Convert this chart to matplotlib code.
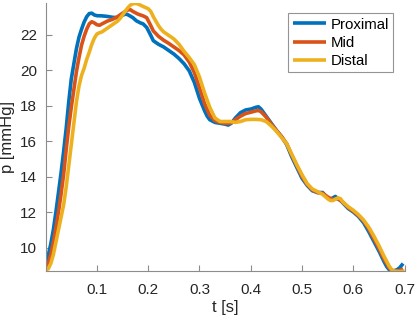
import matplotlib
matplotlib.use("Agg")
import matplotlib.pyplot as plt

plt.rcParams["font.family"] = ["Liberation Sans", "DejaVu Sans"]

# Proximal (blue)
t_prox = [0, 0.005, 0.01, 0.015, 0.02, 0.025, 0.03, 0.035, 0.04, 0.045, 0.05, 0.055,
          0.06, 0.065, 0.07, 0.075, 0.08, 0.085, 0.09, 0.095, 0.10, 0.11, 0.12, 0.13,
          0.14, 0.15, 0.155, 0.16, 0.17, 0.177, 0.185, 0.19, 0.197, 0.205, 0.21, 0.22,
          0.23, 0.24, 0.25, 0.26, 0.27, 0.28, 0.29, 0.30, 0.31, 0.315, 0.32, 0.33, 0.34,
          0.35, 0.356, 0.362, 0.37, 0.38, 0.39, 0.40, 0.41, 0.415, 0.42, 0.43, 0.44,
          0.45, 0.46, 0.47, 0.48, 0.49, 0.50, 0.51, 0.52, 0.53, 0.54, 0.55, 0.555, 0.56,
          0.565, 0.57, 0.575, 0.58, 0.59, 0.60, 0.61, 0.62, 0.63, 0.64, 0.65, 0.66,
          0.665, 0.67, 0.675, 0.68, 0.685, 0.69, 0.697]
p_prox = [9.2, 9.55, 10.2, 11.0, 12.0, 13.1, 14.2, 15.4, 16.7, 18.2, 19.5, 20.35,
          21.2, 21.85, 22.3, 22.7, 23.0, 23.18, 23.2, 23.1, 23.06, 23.05, 23.02, 22.97,
          22.95, 23.08, 23.15, 23.12, 22.95, 22.77, 22.65, 22.6, 22.4, 21.95, 21.65, 21.45,
          21.3, 21.1, 20.9, 20.65, 20.35, 19.95, 19.3, 18.4, 17.7, 17.4, 17.2, 17.05, 17.0,
          16.95, 16.9, 17.0, 17.3, 17.6, 17.75, 17.8, 17.9, 17.93, 17.8, 17.4, 17.0,
          16.6, 16.25, 15.8, 15.1, 14.5, 13.9, 13.5, 13.2, 13.1, 13.1, 12.8, 12.7, 12.8,
          12.88, 12.75, 12.65, 12.5, 12.2, 12.0, 11.75, 11.4, 10.9, 10.35, 9.8, 9.2,
          8.93, 8.75, 8.69, 8.7, 8.75, 8.85, 9.1]

# Mid (orange)
t_mid = [0, 0.005, 0.01, 0.015, 0.02, 0.025, 0.03, 0.035, 0.04, 0.045, 0.05, 0.055,
         0.06, 0.065, 0.07, 0.075, 0.08, 0.085, 0.09, 0.095, 0.10, 0.105, 0.11, 0.12,
         0.13, 0.14, 0.15, 0.16, 0.165, 0.17, 0.18, 0.19, 0.197, 0.205, 0.21, 0.22,
         0.23, 0.24, 0.25, 0.26, 0.27, 0.28, 0.29, 0.30, 0.31, 0.32, 0.33, 0.34, 0.35,
         0.36, 0.37, 0.38, 0.39, 0.40, 0.41, 0.415, 0.42, 0.43, 0.44, 0.45, 0.46, 0.47,
         0.48, 0.49, 0.50, 0.51, 0.52, 0.53, 0.54, 0.55, 0.56, 0.565, 0.57, 0.58, 0.59,
         0.60, 0.61, 0.62, 0.63, 0.64, 0.65, 0.66, 0.67, 0.675, 0.68, 0.69, 0.697]
p_mid = [8.9, 9.1, 9.6, 10.3, 11.1, 12.0, 13.0, 14.1, 15.5, 16.8, 17.9, 18.9,
         19.9, 20.7, 21.4, 21.9, 22.3, 22.6, 22.72, 22.65, 22.55, 22.52, 22.6, 22.75,
         22.85, 23.0, 23.2, 23.38, 23.4, 23.3, 23.15, 23.05, 22.95, 22.5, 22.2, 21.9,
         21.68, 21.5, 21.3, 21.1, 20.85, 20.45, 19.85, 19.0, 18.1, 17.45, 17.15, 17.05, 17.0,
         17.0, 17.2, 17.4, 17.55, 17.62, 17.7, 17.72, 17.65, 17.35, 16.95, 16.6, 16.25, 15.85,
         15.2, 14.6, 14.0, 13.55, 13.25, 13.1, 13.05, 12.85, 12.7, 12.75, 12.75, 12.55, 12.25,
         12.05, 11.8, 11.5, 11.05, 10.5, 9.95, 9.35, 8.85, 8.72, 8.68, 8.7, 8.8]

# Distal (yellow)
t_dist = [0, 0.005, 0.01, 0.015, 0.02, 0.025, 0.03, 0.035, 0.04, 0.045, 0.05, 0.055,
          0.06, 0.065, 0.07, 0.075, 0.08, 0.085, 0.09, 0.095, 0.10, 0.105, 0.11, 0.12,
          0.13, 0.14, 0.145, 0.15, 0.16, 0.165, 0.17, 0.175, 0.18, 0.185, 0.19, 0.20,
          0.205, 0.21, 0.215, 0.22, 0.225, 0.23, 0.24, 0.25, 0.26, 0.27, 0.28, 0.29, 0.30,
          0.31, 0.32, 0.33, 0.34, 0.35, 0.36, 0.37, 0.38, 0.39, 0.40, 0.41, 0.42, 0.43,
          0.44, 0.45, 0.46, 0.47, 0.48, 0.49, 0.50, 0.51, 0.52, 0.53, 0.54, 0.55, 0.555,
          0.56, 0.57, 0.575, 0.58, 0.59, 0.60, 0.61, 0.62, 0.63, 0.64, 0.65, 0.66, 0.67,
          0.675, 0.68, 0.69, 0.70]
p_dist = [8.75, 8.8, 9.1, 9.6, 10.3, 11.0, 11.7, 12.4, 13.4, 14.6, 15.8, 17.0,
          18.2, 19.1, 19.7, 20.1, 20.6, 21.0, 21.45, 21.8, 22.03, 22.1, 22.15, 22.35,
          22.55, 22.75, 22.9, 23.1, 23.5, 23.65, 23.73, 23.75, 23.72, 23.65, 23.58, 23.45,
          23.3, 23.0, 22.75, 22.5, 22.3, 22.15, 21.95, 21.75, 21.45, 21.05, 20.7, 20.3, 19.6,
          18.7, 17.9, 17.3, 17.1, 17.1, 17.1, 17.05, 17.1, 17.2, 17.22, 17.22, 17.2, 17.1,
          16.85, 16.55, 16.2, 15.85, 15.25, 14.65, 14.1, 13.6, 13.3, 13.15, 13.0, 12.75, 12.65,
          12.65, 12.8, 12.75, 12.55, 12.3, 12.1, 11.85, 11.55, 11.15, 10.65, 10.1, 9.5, 8.95,
          8.75, 8.67, 8.65, 8.67]

labels = ["Proximal", "Mid", "Distal"]
colors = ["#0072BD", "#D95319", "#EDB120"]

x_ticks = [0.1, 0.2, 0.3, 0.4, 0.5, 0.6, 0.7]
y_ticks = [10, 12, 14, 16, 18, 20, 22]

fig = plt.figure(figsize=(4.15, 3.23), dpi=100)
ax = fig.add_axes([0.110, 0.161, 0.865, 0.830])

for t, p, lab, c in zip([t_prox, t_mid, t_dist], [p_prox, p_mid, p_dist], labels, colors):
    ax.plot(t, p, color=c, lw=2.6, label=lab, solid_capstyle="butt")

ax.set_xlim(0, 0.7)
ax.set_ylim(8.68, 23.78)
ax.set_xticks(x_ticks)
ax.set_yticks(y_ticks)
ax.set_xticklabels([f"{v:g}" for v in x_ticks])
ax.set_yticklabels([str(v) for v in y_ticks])

for side in ("top", "right"):
    ax.spines[side].set_visible(False)
for side in ("left", "bottom"):
    ax.spines[side].set_color("#8c8c8c")
    ax.spines[side].set_linewidth(0.8)
ax.tick_params(direction="in", length=4, width=0.8, color="#8c8c8c",
               labelsize=11, labelcolor="#262626")
ax.tick_params(axis="x", pad=9)
ax.tick_params(axis="y", pad=6)

ax.set_xlabel("t [s]", fontsize=12, color="#262626", labelpad=2)
ax.set_ylabel("p [mmHg]", fontsize=12, color="#262626", labelpad=4)

leg = ax.legend(loc="upper right", bbox_to_anchor=(0.968, 0.962), fontsize=10.8,
                frameon=True, fancybox=False, handlelength=2.2, handletextpad=0.3,
                labelspacing=0.28, borderpad=0.3, borderaxespad=0)
leg.get_frame().set_edgecolor("#7a7a7a")
leg.get_frame().set_linewidth(0.8)

fig.savefig("out.png", dpi=100)
